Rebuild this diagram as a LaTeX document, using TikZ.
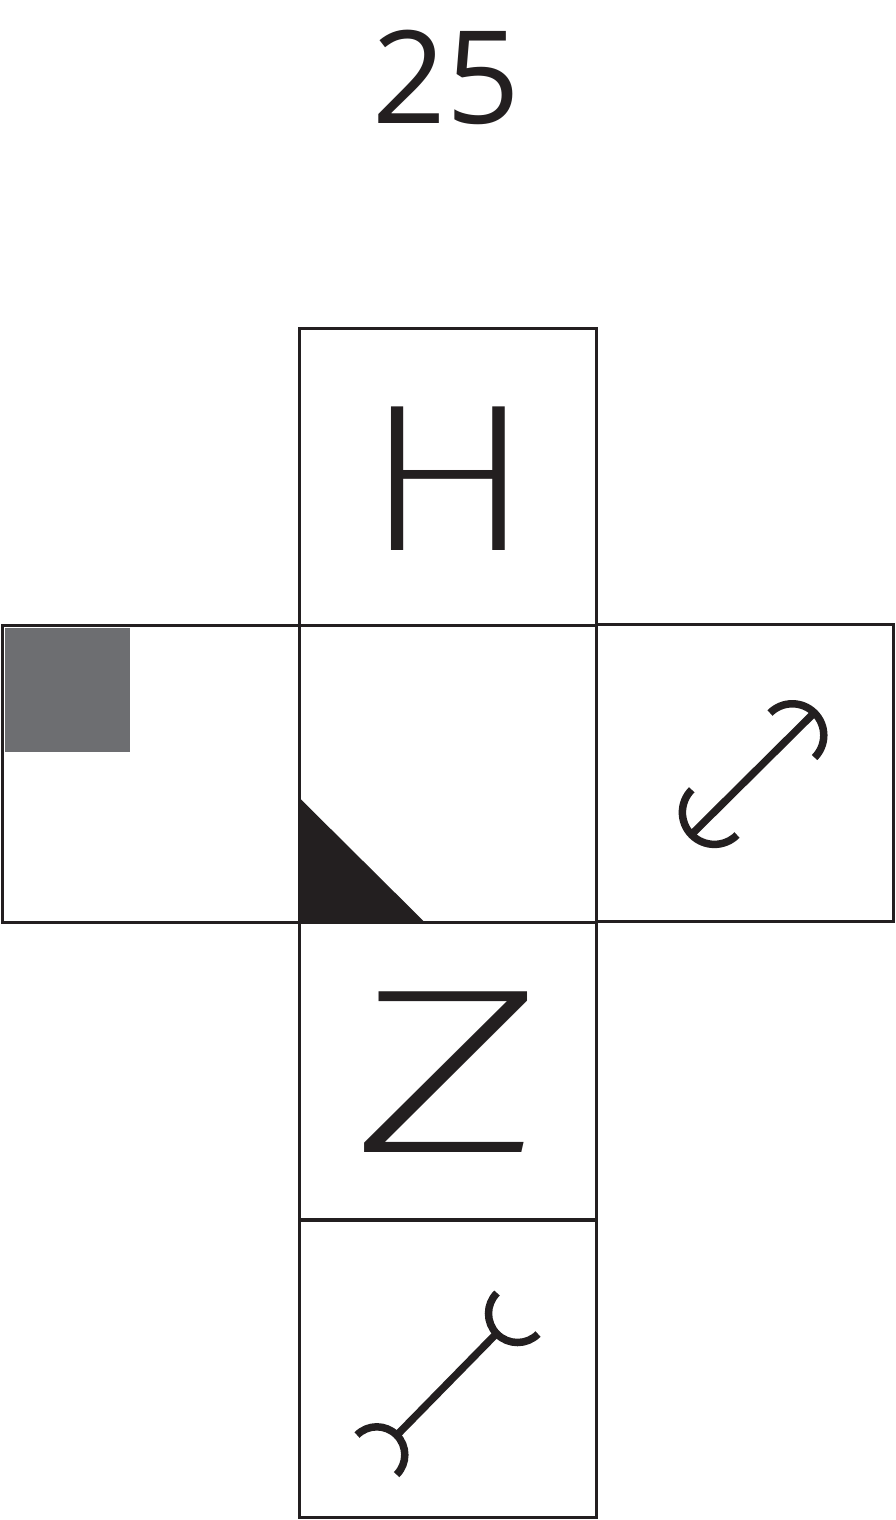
\documentclass[tikz,border=0pt]{standalone}
\usepackage{fontspec}
\setmainfont{Open Sans}
\IfFontExistsTF{Fira Sans ExtraLight}{\newfontfamily\lightfont{Fira Sans ExtraLight}}{%
  \IfFontExistsTF{Fira Sans Light}{\newfontfamily\lightfont{Fira Sans Light}}{\newfontfamily\lightfont{Lato}}}
\newfontfamily\numfont{Open Sans}
\definecolor{ink}{HTML}{231F20}
\definecolor{greyfill}{HTML}{6D6E71}
\tikzset{
  face/.style={draw=ink, line width=3pt, rectangle, minimum width=297pt, minimum height=297pt, inner sep=0pt},
  letter/.style={inner sep=0pt, anchor=base, text=ink},
  sym/.style={draw=ink, line width=7.5pt},
}
\begin{document}
\begin{tikzpicture}[x=1pt,y=-1pt]
\useasboundingbox (0,0) rectangle (895,1520);
\fill[greyfill] (5,628) rectangle (130,752);
\node[face] (top) at (448,476.5) {};
\node[face] (left) at (150.5,773.5) {};
\node[face] (mid) at (448,773.5) {};
\node[face] (right) at (745,773) {};
\node[face] (zsq) at (448,1071) {};
\node[face] (bot) at (448,1368.5) {};
\fill[ink] (mid.south west) -- ++(0,-127) -- ++(128,127) -- cycle;
\node[face, fill=none] at (mid) {};
% title
\node[letter] (title) at (446,123) {\numfont\fontsize{129}{135}\selectfont 25};
% letters
\node[letter] (hl) at (448,550) {\scalebox{1.24}[1]{\lightfont\fontsize{210}{214}\selectfont H}};
\node[letter] (zl) at (448.5,1152) {\scalebox{1.62}[1]{\lightfont\fontsize{235}{240}\selectfont Z}};
% right symbol: rod with outward caps
\coordinate (ra) at (691,835);
\coordinate (rb) at (814,713);
\draw[sym] (ra) -- (rb);
\draw[sym] (770,713) arc[start angle=-135, end angle=45, radius=31.5];
\draw[sym] (737,835) arc[start angle=45, end angle=225, radius=32];
% bottom symbol: rod with inward caps
\coordinate (ba) at (397,1435);
\coordinate (bb) at (497,1333);
\draw[sym] (ba) -- (bb);
\draw[sym] (497,1293) arc[start angle=225, end angle=45, radius=29];
\draw[sym] (357,1435) arc[start angle=-135, end angle=45, radius=28];
\end{tikzpicture}
\end{document}
